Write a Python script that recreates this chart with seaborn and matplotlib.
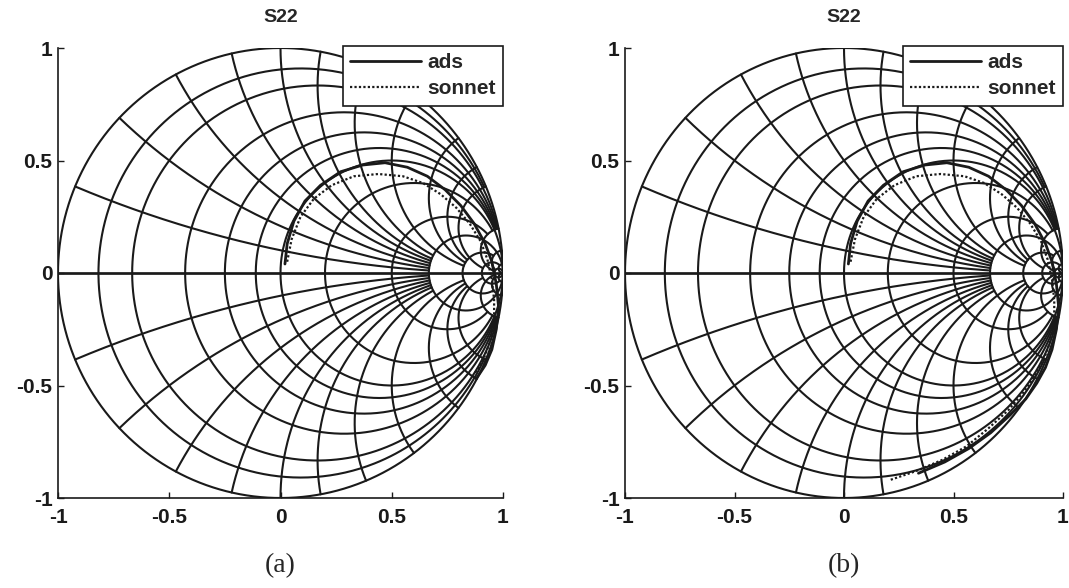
import numpy as np
import matplotlib
matplotlib.use("Agg")
import matplotlib.pyplot as plt
import seaborn as sns

# ---------------- data ----------------
# Smith chart grid values: resistance circles and the reactance they extend to
R_VALUES = [0.1, 0.2, 0.4, 0.6, 0.8, 1.0, 1.5, 3.0, 5.0, 10.0, 20.0, 50.0]
R_XLIMIT = [5.0, 10.0, 10.0, 10.0, 10.0, np.inf, 10.0, 10.0, np.inf, 20.0, 50.0, np.inf]
# reactance arcs and the resistance they extend to
X_VALUES = [0.2, 0.4, 0.6, 0.8, 1.0, 1.2, 1.5, 2.0, 3.0, 4.0, 5.0, 10.0, 20.0, 50.0]
X_RLIMIT = [5.0, 5.0, 5.0, 5.0, 5.0, 5.0, 5.0, 10.0, 10.0, 10.0, 20.0, 50.0, 50.0, np.inf]

# S22 traces, panel (a)
ads_a_re = [0.02, 0.03, 0.06, 0.11, 0.18, 0.27, 0.37, 0.47, 0.57, 0.66, 0.74, 0.81,
            0.87, 0.92, 0.95, 0.97, 0.98, 0.97, 0.95, 0.92, 0.88]
ads_a_im = [0.04, 0.13, 0.23, 0.32, 0.39, 0.45, 0.48, 0.49, 0.47, 0.43, 0.37, 0.30,
            0.22, 0.13, 0.05, -0.05, -0.15, -0.25, -0.34, -0.41, -0.47]
son_a_re = [0.03, 0.05, 0.09, 0.15, 0.23, 0.33, 0.44, 0.55, 0.64, 0.72, 0.79, 0.85,
            0.90, 0.93, 0.95, 0.96, 0.96, 0.94, 0.91, 0.87]
son_a_im = [0.05, 0.15, 0.25, 0.33, 0.39, 0.43, 0.44, 0.43, 0.40, 0.35, 0.29, 0.22,
            0.14, 0.06, -0.03, -0.12, -0.22, -0.31, -0.39, -0.45]

# S22 traces, panel (b)
ads_b_re = [0.02, 0.03, 0.06, 0.11, 0.18, 0.27, 0.37, 0.47, 0.57, 0.66, 0.74, 0.81,
            0.87, 0.92, 0.95, 0.97, 0.98, 0.97, 0.95, 0.92, 0.88, 0.83, 0.76, 0.67,
            0.57, 0.46, 0.34]
ads_b_im = [0.04, 0.13, 0.23, 0.32, 0.39, 0.45, 0.48, 0.49, 0.47, 0.43, 0.37, 0.30,
            0.22, 0.13, 0.05, -0.05, -0.15, -0.25, -0.34, -0.42, -0.49, -0.56, -0.63,
            -0.71, -0.78, -0.84, -0.89]
son_b_re = [0.03, 0.05, 0.09, 0.15, 0.23, 0.33, 0.44, 0.55, 0.64, 0.72, 0.79, 0.85,
            0.90, 0.93, 0.95, 0.96, 0.96, 0.94, 0.91, 0.87, 0.82, 0.75, 0.66, 0.56,
            0.45, 0.33, 0.21]
son_b_im = [0.05, 0.15, 0.25, 0.33, 0.39, 0.43, 0.44, 0.43, 0.40, 0.35, 0.29, 0.22,
            0.14, 0.06, -0.03, -0.12, -0.22, -0.31, -0.39, -0.46, -0.53, -0.61, -0.69,
            -0.77, -0.83, -0.88, -0.92]

TICKS = [-1, -0.5, 0, 0.5, 1]
TICK_LABELS = ["-1", "-0.5", "0", "0.5", "1"]
TITLE = "S22"
SERIES = ["ads", "sonnet"]
PANEL_LABELS = ["(a)", "(b)"]

# ---------------- style ----------------
sns.set_theme(style="white")
plt.rcParams["font.family"] = ["Liberation Sans", "DejaVu Sans"]

fig = plt.figure(figsize=(10.69, 5.88), dpi=100)
W, H = 1069.0, 588.0
axA = fig.add_axes([58 / W, 1 - 498 / H, 445 / W, 450 / H])
axB = fig.add_axes([625 / W, 1 - 498 / H, 438 / W, 450 / H])

GRID_LW = 1.5


def gamma(z):
    return (z - 1) / (z + 1)


def draw_grid(ax):
    # outer unit circle (r = 0)
    t = np.linspace(0, 2 * np.pi, 800)
    ax.plot(np.cos(t), np.sin(t), color="k", lw=GRID_LW)
    # real axis
    ax.plot([-1, 1], [0, 0], color="k", lw=GRID_LW * 1.3)
    for r, xl in zip(R_VALUES, R_XLIMIT):
        tt = np.linspace(-np.arctan(xl), np.arctan(xl), 600)
        g = gamma(r + 1j * np.tan(tt))
        ax.plot(g.real, g.imag, color="k", lw=GRID_LW)
    for xv, rl in zip(X_VALUES, X_RLIMIT):
        tt = np.linspace(0, np.arctan(rl), 600)
        rr = np.tan(tt)
        for s in (1, -1):
            g = gamma(rr + 1j * s * xv)
            ax.plot(g.real, g.imag, color="k", lw=GRID_LW)


def style_axes(ax):
    ax.set_xlim(-1, 1)
    ax.set_ylim(-1, 1)
    ax.set_xticks(TICKS)
    ax.set_yticks(TICKS)
    ax.set_xticklabels(TICK_LABELS, fontsize=15, fontweight="bold")
    ax.set_yticklabels(TICK_LABELS, fontsize=15, fontweight="bold")
    ax.tick_params(axis="x", direction="in", length=4, width=1, colors="k", pad=7,
                   bottom=True)
    ax.tick_params(axis="y", direction="in", length=4, width=1, colors="k", pad=4,
                   left=True)
    for side in ("top", "right"):
        ax.spines[side].set_visible(False)
    for side in ("left", "bottom"):
        ax.spines[side].set_color("k")
        ax.spines[side].set_linewidth(1.2)
    ax.set_title(TITLE, fontsize=14, fontweight="bold", pad=19)
    ax.set_facecolor("white")


for ax, (ar, ai, sr, si) in zip(
    (axA, axB),
    ((ads_a_re, ads_a_im, son_a_re, son_a_im), (ads_b_re, ads_b_im, son_b_re, son_b_im)),
):
    draw_grid(ax)
    sns.lineplot(x=ar, y=ai, sort=False, estimator=None, color="k", lw=2.0,
                 label=SERIES[0], ax=ax)
    sns.lineplot(x=sr, y=si, sort=False, estimator=None, color="k", lw=1.6,
                 linestyle=(0, (1, 1)), label=SERIES[1], ax=ax)
    style_axes(ax)
    leg = ax.legend(loc="upper right", bbox_to_anchor=(1.0, 1.005), borderaxespad=0,
                    frameon=True, fancybox=False, edgecolor="k", framealpha=1,
                    handlelength=3.4, handletextpad=0.3, borderpad=0.35, labelspacing=0.35,
                    prop={"weight": "bold", "size": 15})
    leg.get_frame().set_linewidth(1.2)

for ax, lab in zip((axA, axB), PANEL_LABELS):
    cx = (ax.get_position().x0 + ax.get_position().x1) / 2
    fig.text(cx, 1 - 566 / H, lab, ha="center", va="center", fontsize=20,
             family=["Liberation Serif", "DejaVu Serif"])

fig.savefig("out.png", dpi=100, facecolor="white")
